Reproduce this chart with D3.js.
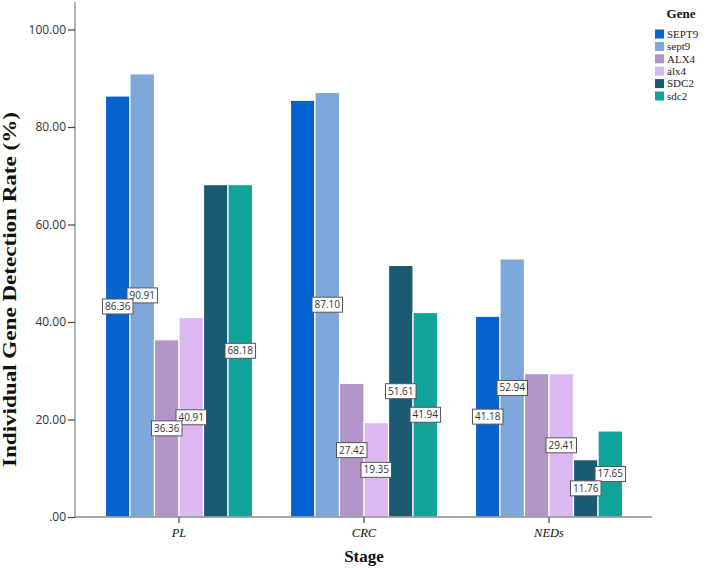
<!DOCTYPE html>
<html>
<head>
<meta charset="utf-8">
<script src="https://cdn.jsdelivr.net/npm/d3@7"></script>
<style>
  html, body { margin: 0; padding: 0; background: #fff; }
  svg { display: block; }
</style>
</head>
<body>
<svg id="chart" width="709" height="570"></svg>
<script>
// ---- data ----
const stages = ["PL", "CRC", "NEDs"];
const genes = ["SEPT9", "sept9", "ALX4", "alx4", "SDC2", "sdc2"];
const SEPT9 = [86.36, 85.48, 41.18];
const sept9 = [90.91, 87.10, 52.94];
const ALX4 = [36.36, 27.42, 29.41];
const alx4 = [40.91, 19.35, 29.41];
const SDC2 = [68.18, 51.61, 11.76];
const sdc2 = [68.18, 41.94, 17.65];
const seriesValues = [SEPT9, sept9, ALX4, alx4, SDC2, sdc2];
const yTicks = [0, 20, 40, 60, 80, 100];
// data labels that are not shown in the original (stage, gene)
const hiddenLabels = [["PL", "SDC2"], ["CRC", "SEPT9"], ["NEDs", "ALX4"]];
const geneColors = ["#0563cf", "#7ea8da", "#b394c8", "#dcb8f0", "#1a5b72", "#0fa39b"];

// ---- build ----
const rows = [];
stages.forEach((s, i) => {
  genes.forEach((g, j) => {
    rows.push({ stage: s, gene: g, gi: j, value: seriesValues[j][i] });
  });
});

const svg = d3.select("#chart");
const yBase = 517, yTop = 29.5;
const y = d3.scaleLinear().domain([0, 100]).range([yBase, yTop]);
const x0 = d3.scaleBand().domain(stages).range([86.5, 641.5])
  .paddingInner(0.205).paddingOuter(0.1025);
const x1 = d3.scaleBand().domain(genes).range([0, x0.bandwidth()]).padding(0);
const color = d3.scaleOrdinal().domain(genes).range(geneColors);

const axisX = 75, axisRight = 652;
const fmt = v => d3.format(".2f")(v).replace(/^0\./, ".");

// bars
svg.append("g").selectAll("rect").data(rows).join("rect")
  .attr("x", d => x0(d.stage) + x1(d.gene))
  .attr("y", d => y(d.value))
  .attr("width", x1.bandwidth())
  .attr("height", d => y(0) - y(d.value))
  .attr("fill", d => color(d.gene))
  .attr("stroke", "#ffffff")
  .attr("stroke-width", 1.2);

// axes lines
const axisColor = "#8a8a8a";
svg.append("line").attr("x1", axisX).attr("x2", axisX).attr("y1", 2).attr("y2", yBase)
  .attr("stroke", axisColor).attr("stroke-width", 1.3);
svg.append("line").attr("x1", axisX).attr("x2", axisRight).attr("y1", yBase).attr("y2", yBase)
  .attr("stroke", axisColor).attr("stroke-width", 1.3);

// y axis ticks
const yAxis = d3.axisLeft(y).tickValues(yTicks).tickFormat(fmt).tickSize(7).tickPadding(2);
const gy = svg.append("g").attr("transform", `translate(${axisX},0)`).call(yAxis);
gy.select(".domain").remove();
gy.selectAll(".tick line").attr("stroke", "#444").attr("stroke-width", 1.2);
gy.selectAll(".tick text").attr("fill", "#333")
  .style("font-family", "'Open Sans', sans-serif").style("font-size", "12px");

// x axis ticks
const xAxis = d3.axisBottom(x0).tickSize(6).tickPadding(5);
const gx = svg.append("g").attr("transform", `translate(0,${yBase})`).call(xAxis);
gx.select(".domain").remove();
gx.selectAll(".tick line").attr("stroke", "#444").attr("stroke-width", 1.2);
gx.selectAll(".tick text").attr("fill", "#111")
  .style("font-family", "'Liberation Serif', 'Times New Roman', serif")
  .style("font-style", "italic").style("font-size", "12.5px");

// data labels (earlier series on top -> draw in reverse order)
const isHidden = d => hiddenLabels.some(h => h[0] === d.stage && h[1] === d.gene);
const labelRows = rows.filter(d => !isHidden(d)).sort((a, b) => b.gi - a.gi);
const lg = svg.append("g");
labelRows.forEach(d => {
  const cx = x0(d.stage) + x1(d.gene) + x1.bandwidth() / 2;
  const cy = y(d.value / 2);
  const g = lg.append("g").attr("transform", `translate(${cx},${cy})`);
  const t = g.append("text").text(fmt(d.value))
    .attr("text-anchor", "middle").attr("dy", "0.35em")
    .attr("fill", "#333")
    .style("font-family", "'Open Sans', sans-serif").style("font-size", "10px");
  const w = t.node().getComputedTextLength();
  g.insert("rect", "text")
    .attr("x", -w / 2 - 2.5).attr("y", -7.5)
    .attr("width", w + 5).attr("height", 15)
    .attr("fill", "#fff").attr("stroke", "#555").attr("stroke-width", 1);
});

// axis titles
svg.append("text")
  .attr("transform", `translate(16,${(112 + 467) / 2}) rotate(-90)`)
  .attr("text-anchor", "middle")
  .attr("textLength", 355).attr("lengthAdjust", "spacingAndGlyphs")
  .style("font-family", "'Liberation Serif', 'Times New Roman', serif")
  .style("font-weight", "bold").style("font-size", "18px").attr("fill", "#111")
  .text("Individual Gene Detection Rate (%)");

svg.append("text")
  .attr("x", x0("CRC") + x0.bandwidth() / 2).attr("y", 562)
  .attr("text-anchor", "middle")
  .style("font-family", "'Liberation Serif', 'Times New Roman', serif")
  .style("font-weight", "bold").style("font-size", "17px").attr("fill", "#111")
  .text("Stage");

// legend
const leg = svg.append("g").attr("transform", "translate(655,0)");
leg.append("text").attr("x", 26).attr("y", 18).attr("text-anchor", "middle")
  .style("font-family", "'Liberation Serif', 'Times New Roman', serif")
  .style("font-weight", "bold").style("font-size", "13px").attr("fill", "#111")
  .text("Gene");
genes.forEach((g, i) => {
  const yy = 34 + i * 12.4;
  leg.append("rect").attr("x", 0).attr("y", yy - 4.5).attr("width", 9).attr("height", 9)
    .attr("fill", color(g));
  leg.append("text").attr("x", 12).attr("y", yy).attr("dy", "0.35em")
    .style("font-family", "'Liberation Serif', 'Times New Roman', serif")
    .style("font-size", "11px").attr("fill", "#222")
    .text(g);
});
</script>
</body>
</html>
